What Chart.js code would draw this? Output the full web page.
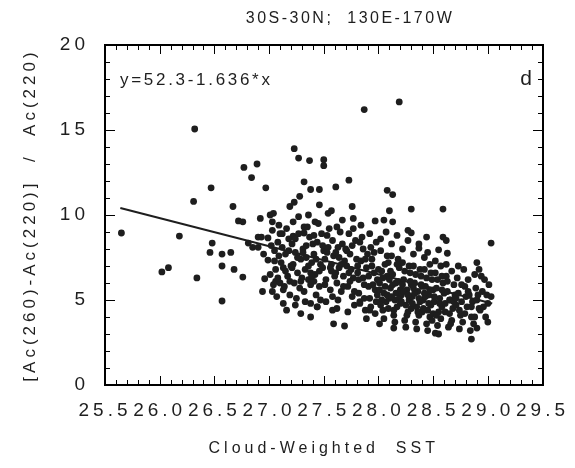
<!DOCTYPE html>
<html>
<head>
<meta charset="utf-8">
<script src="https://cdn.jsdelivr.net/npm/chart.js@4.4.1/dist/chart.umd.min.js"></script>
<style>
  html, body { margin: 0; padding: 0; background: #fff; }
  #wrap { width: 575px; height: 468px; }
</style>
</head>
<body>
<div id="wrap"><canvas id="c" width="575" height="468"></canvas></div>
<script>
// Cloud-weighted SST vs [Ac(260)-Ac(220)]/Ac(220), panel d

const chartTitle = '30S-30N;  130E-170W';
const panelLabel = 'd';
const fitLabel = 'y=52.3-1.636*x';
const xTitle = 'Cloud-Weighted  SST';
const yTitle = '[Ac(260)-Ac(220)]  /  Ac(220)';

const xTicks = [25.5, 26.0, 26.5, 27.0, 27.5, 28.0, 28.5, 29.0, 29.5];
const yTicks = [0, 5, 10, 15, 20];

// regression line end points
const fitX = [25.64, 29.04];
const fitY = [10.41, 4.79];

// scattered points outside the main cloud
const outerSST = [
  26.32, 26.77, 26.89, 26.84, 26.47, 26.97, 26.31, 26.67, 26.72, 26.76, 26.92, 27.01, 27.04, 27.03,
  25.65, 26.18, 26.02, 26.08, 26.34, 26.57, 26.48, 26.46, 26.57, 26.65, 26.57, 26.68, 26.76, 26.90,
  26.93, 26.99, 26.95, 26.99, 26.96, 27.06, 26.94, 27.03, 27.16, 26.85, 26.90, 26.81, 27.10,
  27.87, 28.19, 27.23, 27.27, 27.37, 27.50, 27.50, 27.32, 27.38, 27.46, 27.61, 27.73, 27.28, 27.23,
  27.19, 27.46, 27.57, 27.76, 28.08, 28.13, 28.10, 28.30, 28.59, 27.77, 27.97, 28.05, 28.13, 27.42,
  27.32, 27.62, 29.03, 28.44, 28.59, 28.62, 28.27, 28.30, 28.37, 28.45, 28.55, 28.63, 27.22, 27.32,
  27.29, 27.38, 27.59, 27.69, 28.01, 28.14, 28.52, 28.85, 28.90, 29.00, 29.03, 28.90, 28.92, 28.97,
  28.93, 27.13, 27.38, 27.44, 27.58, 27.83, 27.92
];
const outerRatio = [
  15.06, 12.8, 13.0, 12.2, 11.6, 11.6, 10.8, 10.5, 9.65, 9.6, 9.8, 10.0, 10.1, 9.6,
  8.94, 8.76, 6.65, 6.9, 6.3, 4.94, 8.35, 7.8, 7.7, 7.8, 7.0, 6.8, 6.35, 8.7,
  8.7, 8.65, 7.7, 7.35, 6.25, 6.1, 5.5, 5.5, 4.4, 8.1, 8.1, 8.35, 8.9,
  16.2, 16.65, 13.9, 13.35, 13.2, 13.25, 12.9, 11.95, 11.5, 11.5, 11.65, 12.05, 11.1, 10.75,
  10.5, 10.6, 10.25, 10.5, 11.45, 11.2, 10.25, 10.35, 10.35, 9.8, 9.65, 9.7, 9.6, 9.6,
  9.3, 9.3, 8.35, 8.7, 8.7, 8.5, 9.1, 8.95, 8.05, 7.8, 7.95, 7.75, 8.76, 8.94,
  4.2, 4.0, 3.6, 3.47, 3.6, 3.35, 3.05, 2.7, 3.35, 3.7, 5.2, 7.2, 6.8, 6.2,
  4.4, 5.6, 4.8, 4.6, 4.4, 4.8, 4.4
];

// dense cloud, 27.0 - 29.0
const coreSST = [
  27.02, 27.05, 27.08, 27.01, 27.06, 27.09, 27.04, 27.07, 27.10, 27.03, 27.09,
  27.12, 27.15, 27.18, 27.13, 27.17, 27.14, 27.19, 27.16, 27.11, 27.20, 27.13, 27.19,
  27.21, 27.24, 27.27, 27.22, 27.26, 27.29, 27.23, 27.28, 27.25, 27.30, 27.22, 27.27, 27.24,
  27.31, 27.34, 27.37, 27.33, 27.36, 27.39, 27.32, 27.38, 27.35, 27.40, 27.33, 27.38, 27.36,
  27.41, 27.44, 27.47, 27.42, 27.46, 27.49, 27.43, 27.48, 27.45, 27.50, 27.41, 27.47, 27.44,
  27.51, 27.54, 27.57, 27.52, 27.56, 27.59, 27.53, 27.58, 27.55, 27.60, 27.52, 27.57, 27.54,
  27.61, 27.64, 27.67, 27.62, 27.66, 27.69, 27.63, 27.68, 27.65, 27.70, 27.62, 27.67, 27.64,
  27.71, 27.74, 27.77, 27.72, 27.76, 27.79, 27.73, 27.78, 27.75, 27.80, 27.72, 27.77, 27.74,
  27.81, 27.84, 27.87, 27.82, 27.86, 27.89, 27.83, 27.88, 27.85, 27.90, 27.82, 27.87, 27.84, 27.89,
  27.91, 27.94, 27.97, 27.92, 27.96, 27.99, 27.93, 27.98, 27.95, 28.00, 27.92, 27.97, 27.94, 27.99,
  28.01, 28.03, 28.05, 28.07, 28.09, 28.02, 28.04, 28.06, 28.08, 28.10, 28.02, 28.05, 28.08, 28.03, 28.07, 28.10,
  28.11, 28.13, 28.15, 28.17, 28.19, 28.12, 28.14, 28.16, 28.18, 28.20, 28.12, 28.15, 28.18, 28.13, 28.17, 28.20,
  28.21, 28.23, 28.25, 28.27, 28.29, 28.22, 28.24, 28.26, 28.28, 28.30, 28.22, 28.25, 28.28, 28.23, 28.27, 28.30,
  28.31, 28.33, 28.35, 28.37, 28.39, 28.32, 28.34, 28.36, 28.38, 28.40, 28.32, 28.35, 28.38, 28.33, 28.37, 28.40,
  28.41, 28.43, 28.45, 28.47, 28.49, 28.42, 28.44, 28.46, 28.48, 28.50, 28.42, 28.45, 28.48, 28.43, 28.47, 28.50,
  28.51, 28.53, 28.55, 28.57, 28.59, 28.52, 28.54, 28.56, 28.58, 28.60, 28.52, 28.55, 28.58, 28.57,
  28.61, 28.63, 28.65, 28.67, 28.69, 28.62, 28.64, 28.66, 28.68, 28.70, 28.62, 28.67,
  28.71, 28.73, 28.75, 28.77, 28.79, 28.72, 28.74, 28.76, 28.78, 28.80, 28.73,
  28.81, 28.83, 28.85, 28.87, 28.89, 28.82, 28.84, 28.86, 28.88, 28.90,
  28.92, 28.95, 28.98, 29.01, 28.94, 29.00
];
const coreRatio = [
  8.2, 7.9, 8.4, 6.5, 6.8, 7.6, 5.9, 5.2, 6.0, 9.1, 9.4,
  8.1, 7.7, 8.6, 6.9, 6.4, 5.8, 5.3, 9.2, 7.2, 7.0, 4.8, 6.1,
  8.3, 7.8, 8.9, 7.1, 6.6, 7.4, 6.0, 5.7, 5.1, 6.3, 9.6, 9.9, 4.7,
  8.0, 7.5, 8.7, 6.8, 6.2, 7.2, 5.5, 5.9, 9.3, 8.3, 4.9, 6.6, 10.0,
  7.7, 8.4, 7.1, 6.5, 5.8, 6.9, 5.3, 8.9, 9.5, 7.9, 6.1, 5.0, 4.6,
  7.4, 8.1, 6.7, 6.2, 5.6, 7.6, 8.8, 5.2, 9.2, 6.4, 4.9, 7.1, 10.1,
  7.8, 6.9, 8.3, 6.0, 5.5, 7.3, 5.0, 6.4, 9.0, 8.0, 4.5, 9.7, 7.5,
  7.0, 7.7, 6.3, 5.8, 5.2, 8.5, 8.9, 4.7, 6.8, 7.4, 4.3, 9.2, 6.1,
  6.6, 7.3, 5.9, 5.4, 8.0, 6.9, 4.9, 4.4, 8.7, 7.7, 6.2, 5.1, 9.4, 3.9,
  6.4, 7.0, 5.6, 5.1, 7.8, 6.2, 4.6, 8.4, 5.9, 6.8, 8.9, 4.2, 7.4, 5.3,
  6.0, 6.7, 5.4, 4.9, 7.2, 7.9, 4.4, 5.8, 6.4, 5.1, 8.6, 3.9, 7.6, 5.0, 9.0, 6.2,
  5.7, 6.5, 5.0, 4.6, 6.9, 7.6, 4.1, 5.4, 6.1, 4.8, 8.3, 3.7, 7.4, 5.9, 8.8, 5.6,
  5.3, 6.2, 4.7, 4.3, 6.6, 7.2, 3.8, 5.6, 5.0, 5.9, 8.0, 3.4, 7.0, 5.5, 8.5, 4.5,
  5.2, 6.0, 4.6, 4.1, 6.4, 7.0, 3.7, 5.5, 4.9, 5.8, 7.7, 3.3, 6.8, 5.4, 8.3, 4.3,
  5.0, 5.8, 4.4, 4.0, 6.2, 6.8, 3.6, 5.3, 4.7, 5.6, 7.5, 3.2, 6.6, 5.2, 7.1, 4.2,
  4.9, 5.7, 4.3, 3.9, 6.0, 6.6, 3.5, 5.1, 4.6, 5.4, 7.3, 3.0, 6.4, 7.0,
  4.8, 5.5, 4.2, 3.8, 5.9, 6.4, 3.4, 5.0, 4.5, 5.3, 7.1, 6.7,
  4.7, 5.4, 4.1, 3.7, 5.8, 6.3, 3.3, 4.9, 6.8, 5.2, 7.0,
  4.6, 5.3, 4.0, 3.6, 5.7, 6.2, 3.2, 4.9, 6.5, 5.0,
  4.5, 5.5, 4.0, 5.9, 6.4, 4.8
];

// extra points filling the densest part of the cloud
const fillSST = [
  27.05, 27.08, 27.12, 27.15, 27.18, 27.21, 27.24, 27.26, 27.29, 27.31, 27.34, 27.36, 27.39,
  27.41, 27.43, 27.46, 27.49, 27.51, 27.53, 27.56, 27.58, 27.61, 27.63, 27.66, 27.68, 27.71,
  27.73, 27.76, 27.78, 27.81, 27.83, 27.86, 27.88, 27.91, 27.93, 27.96, 27.98,
  28.01, 28.02, 28.04, 28.06, 28.08, 28.09, 28.11, 28.12, 28.14, 28.16, 28.17, 28.19, 28.21,
  28.22, 28.24, 28.26, 28.27, 28.29, 28.31, 28.32, 28.34, 28.36, 28.37, 28.39, 28.41, 28.42,
  28.44, 28.46, 28.47, 28.49, 28.51, 28.53, 28.54, 28.56, 28.58, 28.61, 28.63, 28.65, 28.66,
  28.69, 28.71, 28.74, 28.76, 28.79, 28.82, 28.85, 28.88, 28.91, 28.96, 28.99
];
const fillRatio = [
  7.3, 6.3, 8.9, 6.7, 7.9, 6.9, 8.6, 7.5, 6.1, 7.8, 8.2, 7.0, 6.4,
  8.8, 7.4, 6.7, 8.2, 5.9, 7.8, 6.9, 8.5, 6.6, 8.1, 7.1, 5.8, 7.9,
  6.6, 8.2, 5.5, 7.0, 8.4, 6.3, 7.4, 5.8, 8.1, 6.6, 4.9,
  5.6, 4.7, 6.3, 7.1, 5.3, 4.5, 6.7, 5.2, 4.4, 6.0, 7.1, 5.1, 4.9,
  5.9, 6.7, 4.1, 5.3, 6.1, 4.8, 5.7, 6.5, 4.3, 5.1, 5.9, 4.5, 5.4,
  6.3, 4.8, 5.6, 3.8, 5.2, 4.1, 6.2, 4.8, 5.6, 4.3, 6.1, 5.0, 3.6,
  4.9, 5.1, 4.4, 5.9, 4.2, 5.5, 4.6, 4.0, 5.3, 4.6, 5.3
];

const ink = '#1e1e1e';
const font = 'Liberation Sans, Arial, Helvetica, sans-serif';

const scatterPts = [];
outerSST.forEach((x, i) => scatterPts.push({ x, y: outerRatio[i] }));
coreSST.forEach((x, i) => scatterPts.push({ x, y: coreRatio[i] }));
fillSST.forEach((x, i) => scatterPts.push({ x, y: fillRatio[i] }));
const fitPts = fitX.map((x, i) => ({ x, y: fitY[i] }));

// box frame and inward tick marks on all four sides, plus in-plot text
const framePlugin = {
  id: 'frame',
  beforeDraw(chart) {
    chart.ctx.letterSpacing = '4px';
  },
  afterDraw(chart) {
    const { ctx, chartArea: a } = chart;
    const x = chart.scales.x, y = chart.scales.y;
    const L = Math.round(a.left), R = Math.round(a.right);
    const T = Math.round(a.top), B = Math.round(a.bottom);
    ctx.save();
    ctx.fillStyle = '#000';
    // frame, 2px
    ctx.fillRect(L - 1, T - 1, R - L + 2, 2);
    ctx.fillRect(L - 1, B - 1, R - L + 2, 2);
    ctx.fillRect(L - 1, T - 1, 2, B - T + 2);
    ctx.fillRect(R - 1, T - 1, 2, B - T + 2);
    // x ticks every 0.1, longer every 0.5
    for (let i = 0; i <= 40; i++) {
      const px = Math.round(x.getPixelForValue(25.5 + i * 0.1));
      const len = i % 5 === 0 ? 9 : 5;
      ctx.fillRect(px, B - len, 1, len);
      ctx.fillRect(px, T, 1, len);
    }
    // y ticks every 1, longer every 5
    for (let v = 0; v <= 20; v++) {
      const py = Math.round(y.getPixelForValue(v));
      const len = v % 5 === 0 ? 10 : 5;
      ctx.fillRect(L, py, len, 1);
      ctx.fillRect(R - len, py, len, 1);
    }

    ctx.fillStyle = ink;
    ctx.letterSpacing = '2.7px';
    ctx.textBaseline = 'alphabetic';
    ctx.font = '17px ' + font;
    ctx.textAlign = 'left';
    ctx.fillText(fitLabel, a.left + 15, a.top + 40);
    ctx.font = '21px ' + font;
    ctx.textAlign = 'right';
    ctx.fillText(panelLabel, a.right - 8, a.top + 40);
    ctx.font = '16px ' + font;
    ctx.textAlign = 'center';
    ctx.letterSpacing = '2.5px';
    ctx.fillText(chartTitle, 350, 23);
    ctx.restore();
  }
};

new Chart(document.getElementById('c'), {
  type: 'scatter',
  data: {
    datasets: [
      {
        data: scatterPts,
        pointRadius: 3.4,
        pointBackgroundColor: ink,
        pointBorderWidth: 0,
        pointHoverRadius: 3.4
      },
      {
        type: 'line',
        data: fitPts,
        borderColor: ink,
        borderWidth: 2,
        pointRadius: 0,
        showLine: true,
        fill: false
      }
    ]
  },
  options: {
    responsive: false,
    animation: false,
    events: [],
    layout: { padding: { top: 45, right: 27, bottom: 0, left: 20 } },
    plugins: { legend: { display: false }, tooltip: { enabled: false } },
    scales: {
      x: {
        type: 'linear',
        min: 25.5, max: 29.5,
        afterBuildTicks: s => { s.ticks = xTicks.map(v => ({ value: v })); },
        afterFit: s => { s.height = 83; },
        grid: { display: false, drawTicks: false },
        border: { display: false },
        ticks: {
          autoSkip: false, maxRotation: 0, padding: 14,
          color: ink, font: { family: font, size: 19 },
          callback: v => v.toFixed(1)
        },
        title: {
          display: true, text: xTitle, color: ink,
          font: { family: font, size: 16 }, padding: { top: 6, bottom: 10 }
        }
      },
      y: {
        type: 'linear',
        min: 0, max: 20,
        afterBuildTicks: s => { s.ticks = yTicks.map(v => ({ value: v })); },
        afterFit: s => { s.width = 85; },
        grid: { display: false, drawTicks: false },
        border: { display: false },
        ticks: {
          padding: 16, color: ink, font: { family: font, size: 19 }
        },
        title: {
          display: true, text: yTitle, color: ink,
          font: { family: font, size: 17 }, padding: { top: 0, bottom: 8 }
        }
      }
    }
  },
  plugins: [framePlugin]
});
</script>
</body>
</html>
